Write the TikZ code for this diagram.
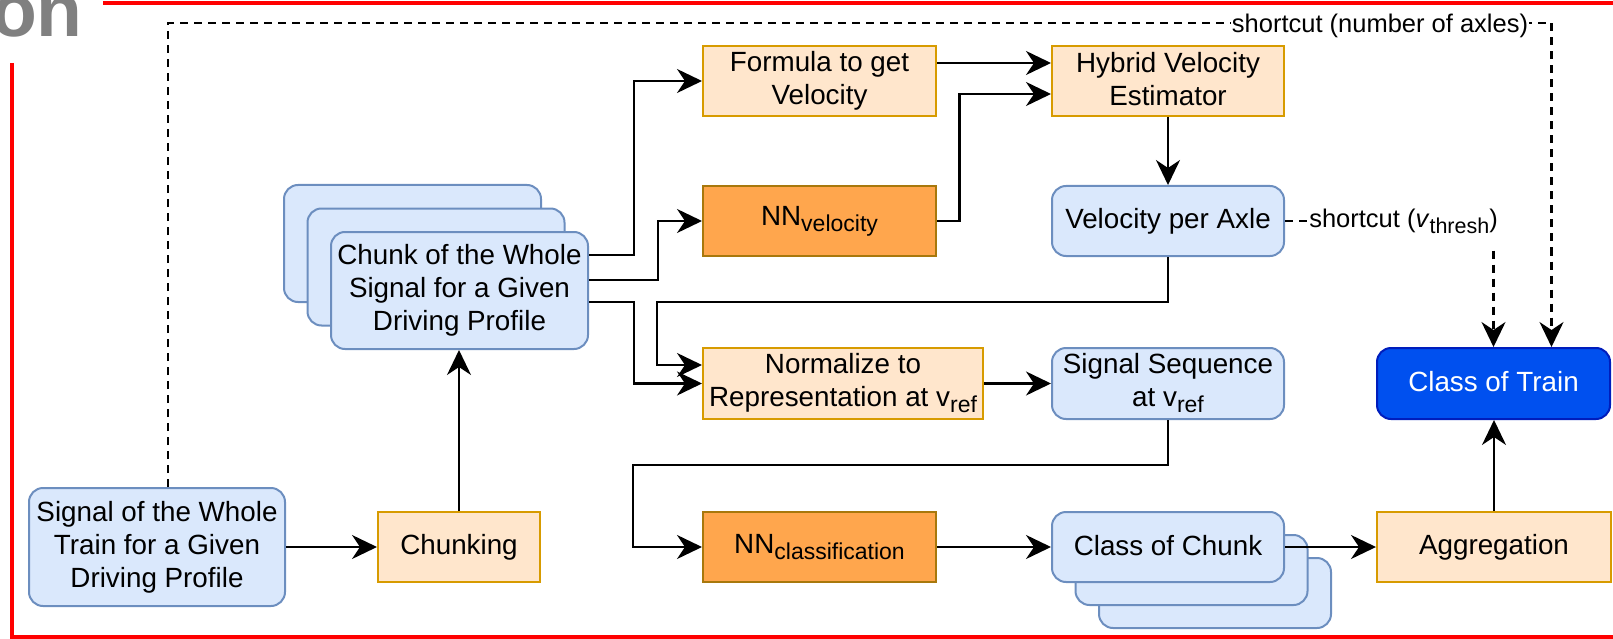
\documentclass[tikz,border=0pt]{standalone}
\usepackage{fontspec}
\setmainfont{Liberation Sans}
\usetikzlibrary{arrows.meta,calc}

\definecolor{bluefill}{HTML}{DAE8FC}
\definecolor{blueline}{HTML}{6C8EBF}
\definecolor{orangefill}{HTML}{FFE6CC}
\definecolor{orangeline}{HTML}{D79B00}
\definecolor{nnfill}{HTML}{FFA64D}
\definecolor{nnline}{HTML}{A8780C}
\definecolor{trainfill}{HTML}{0050EF}
\definecolor{trainline}{HTML}{001DBC}
\definecolor{titlegray}{HTML}{808080}

% lowered, smaller text for indices such as v_ref
\newcommand\lowsub[2][23]{\raisebox{-6pt}{\fontsize{#1}{#1}\selectfont #2}}
% fixed strut so that all labels sit on the same baseline offset
\newcommand\labelstrut{\rule[-4pt]{0pt}{24pt}}

\tikzset{
  tip/.tip={Stealth[length=25pt 0 0,width=24pt 0 0,inset=8pt 0 0]}
}

\begin{document}
\begin{tikzpicture}[x=1pt,y=-1pt,
  base/.style={font=\fontsize{27.8}{33}\selectfont, align=center, line width=2pt,
    inner sep=0pt, execute at begin node=\labelstrut, execute at end node=\labelstrut},
  bluebox/.style={base, draw=blueline, fill=bluefill, rounded corners=14pt},
  orangebox/.style={base, draw=orangeline, fill=orangefill},
  nnbox/.style={base, draw=nnline, fill=nnfill},
  trainbox/.style={base, draw=trainline, fill=trainfill, text=white, rounded corners=14pt},
  conn/.style={line width=2.2pt, -tip},
  shortcut/.style={conn, dash pattern=on 8pt off 6pt},
  sclabel/.style={fill=white, inner xsep=1pt, inner ysep=0pt, font=\fontsize{25.5}{30}\selectfont},
  frameline/.style={draw=red, line width=4pt}
]
\useasboundingbox (0,0) rectangle (1613,639);

% slide frame and cut-off title
\draw[frameline] (103,3) -- (1625,3);
\draw[frameline] (12,63) -- (12,637) -- (1625,637);
\node[anchor=base east, inner sep=0pt, text=titlegray,
  font=\fontsize{75}{80}\selectfont\bfseries] (title) at (83,37) {on};

% input and chunking
\node[bluebox, minimum width=256pt, minimum height=118pt] (sig) at (157,547)
  {Signal of the Whole\\Train for a Given\\Driving Profile};
\node[orangebox, minimum width=162pt, minimum height=70pt] (chunking) at (459,547) {Chunking};

% stack of chunks
\node[bluebox, minimum width=257pt, minimum height=117pt] (chunkC) at (412.5,243.5) {};
\node[bluebox, minimum width=257pt, minimum height=117pt] (chunkB) at (436,267) {};
\node[bluebox, minimum width=257pt, minimum height=117pt] (chunkA) at (459.5,290.5)
  {Chunk of the Whole\\Signal for a Given\\Driving Profile};

% velocity estimation
\node[orangebox, minimum width=233pt, minimum height=70pt] (formula) at (819.5,81)
  {Formula to get\\Velocity};
\node[nnbox, minimum width=233pt, minimum height=70pt] (nnv) at (819.5,221)
  {NN\lowsub{velocity}};
\node[orangebox, minimum width=232pt, minimum height=70pt] (hybrid) at (1168,81)
  {Hybrid Velocity\\Estimator};
\node[bluebox, minimum width=232pt, minimum height=70pt] (vel) at (1168,221)
  {Velocity per Axle};

% normalisation
\node[orangebox, minimum width=280pt, minimum height=71pt] (norm) at (843,383.5)
  {Normalize to\\Representation at v\lowsub{ref}};
\node[bluebox, minimum width=232pt, minimum height=71pt] (sigseq) at (1168,383.5)
  {Signal Sequence\\at v\lowsub{ref}};

% classification
\node[nnbox, minimum width=233pt, minimum height=70pt] (nnc) at (819.5,547)
  {NN\lowsub{classification}};
\node[bluebox, minimum width=232pt, minimum height=70pt] (ccC) at (1215,593) {};
\node[bluebox, minimum width=232pt, minimum height=70pt] (ccB) at (1191.5,570) {};
\node[bluebox, minimum width=232pt, minimum height=70pt] (cc) at (1168,547) {Class of Chunk};
\node[orangebox, minimum width=234pt, minimum height=70pt] (agg) at (1494,547) {Aggregation};
\node[trainbox, minimum width=233pt, minimum height=71pt] (train) at (1493.5,383.5)
  {Class of Train};

% connectors
\draw[conn] (sig) -- (chunking);
\draw[conn] (chunking) -- (chunking |- chunkA.south);
\draw[conn] ([yshift=35.5pt]chunkA.east) -- ++(45,0) |- (formula.west);
\draw[conn] ([yshift=10.5pt]chunkA.east) -- ++(69,0) |- (nnv.west);
\draw[conn] ([yshift=-11.5pt]chunkA.east) -- ++(45,0) |- (norm.west);
\draw[conn] ([yshift=18pt]formula.east) -- ([yshift=18pt]hybrid.west);
\draw[conn] (nnv.east) -- ++(22.5,0) |- ([yshift=-13pt]hybrid.west);
\draw[conn] (hybrid) -- (vel);
\coordinate (velturn) at (657,302);
\draw[conn] (vel.south) |- (velturn) |- ([yshift=18.5pt]norm.west);
\draw[conn] (norm) -- (sigseq);
\coordinate (seqturn) at (633,465);
\draw[conn] (sigseq.south) |- (seqturn) |- (nnc.west);
\draw[conn] (nnc) -- (cc);
\draw[conn] (cc) -- (agg);
\draw[conn] (agg.north) -- (agg.north |- train.south);

% shortcuts
\coordinate (axlecorner) at (1551.5,23);
\draw[shortcut] ([xshift=11pt]sig.north) |- (axlecorner) -- (axlecorner |- train.north);
\node[sclabel] (axlelabel) at (1380,26) {shortcut (number of axles)};
\draw[shortcut] (vel.east) -| (train.north);
\node[sclabel, minimum height=52pt] (vthlabel) at (1403.5,221.5)
  {shortcut (\textit{v}\lowsub[21.5]{thresh})};
\end{tikzpicture}
\end{document}
